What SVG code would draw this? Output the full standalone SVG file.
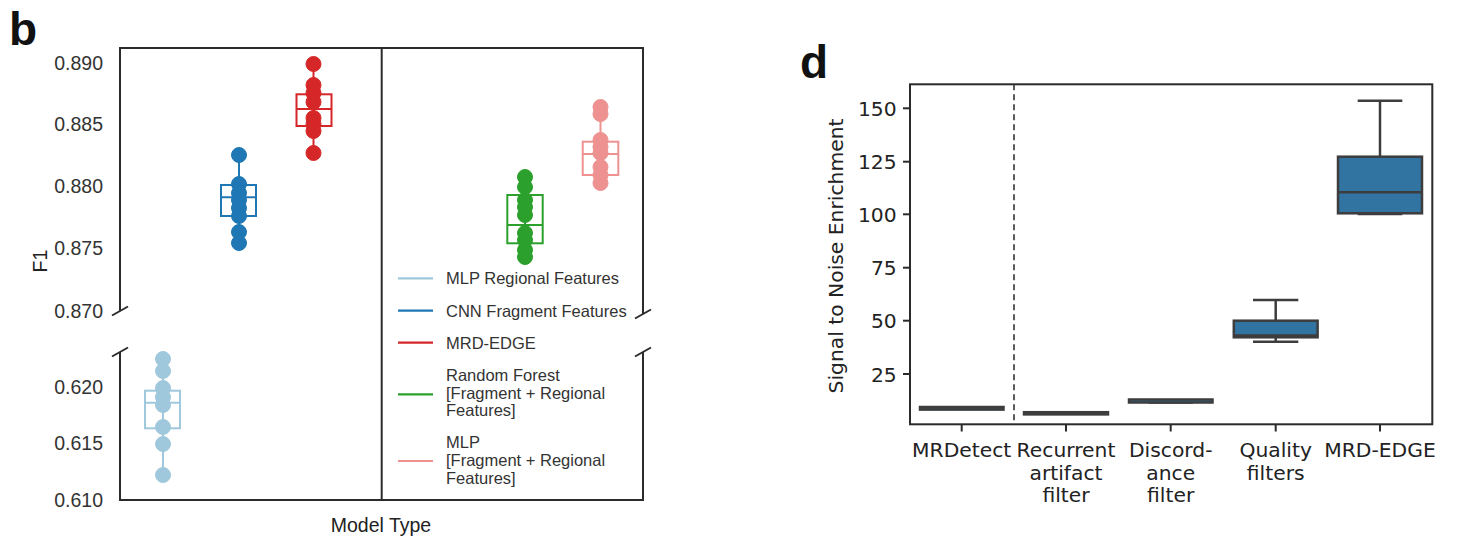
<svg xmlns="http://www.w3.org/2000/svg" width="1462" height="554" viewBox="0 0 1462 554">
<style>
.ax{stroke:#2b2b2b;stroke-width:2;fill:none}
.tl{font-family:"Liberation Sans",Arial,sans-serif;font-size:19.5px;fill:#333;text-anchor:end}
.lab{font-family:"Liberation Sans",Arial,sans-serif;font-size:19.5px;fill:#222;text-anchor:middle}
.lg{font-family:"Liberation Sans",Arial,sans-serif;font-size:16.5px;fill:#333}
.panel{font-family:"Liberation Sans",Arial,sans-serif;font-size:46px;font-weight:bold;fill:#111}
.dv{font-family:"DejaVu Sans",sans-serif;font-size:20.3px;fill:#222}
.dvr{text-anchor:end}
.dvm{text-anchor:middle}
.box2{fill:#3274a1;stroke:#3d3d3d;stroke-width:2.5}
.wh{stroke:#3d3d3d;stroke-width:2.5;fill:none}
.tk{stroke:#2b2b2b;stroke-width:2}
.bx{fill:none;stroke-width:2}
.lb{stroke:#a0c8dc;fill:#a0c8dc}
.bl{stroke:#1f77b4;fill:#1f77b4}
.rd{stroke:#d62728;fill:#d62728}
.gr{stroke:#2ca02c;fill:#2ca02c}
.pk{stroke:#ee9191;fill:#ee9191}
.hl{stroke-width:2.2}
</style>
<rect x="0" y="0" width="1462" height="554" fill="#ffffff"/>

<!-- Panel b -->
<g id="panel-b">
  <text class="panel" x="9" y="45">b</text>
  <g id="b-axes">
    <path class="ax" d="M120,311 V48 H643 V314"/>
    <path class="ax" d="M120,352 V500 H643 V352"/>
    <line class="ax" x1="381.7" y1="48" x2="381.7" y2="500"/>
    <line class="ax" x1="112" y1="315.5" x2="128" y2="306.5"/>
    <line class="ax" x1="112" y1="356.5" x2="128" y2="347.5"/>
    <line class="ax" x1="635" y1="318.5" x2="651" y2="309.5"/>
    <line class="ax" x1="635" y1="356.5" x2="651" y2="347.5"/>
  </g>
  <g id="b-yticks">
    <text class="tl" x="103" y="70">0.890</text>
    <text class="tl" x="103" y="131">0.885</text>
    <text class="tl" x="103" y="193">0.880</text>
    <text class="tl" x="103" y="255">0.875</text>
    <text class="tl" x="103" y="318">0.870</text>
    <text class="tl" x="103" y="394">0.620</text>
    <text class="tl" x="103" y="450">0.615</text>
    <text class="tl" x="103" y="507">0.610</text>
  </g>
  <text class="lab" transform="translate(47,261) rotate(-90)">F1</text>
  <text class="lab" x="381" y="531.5">Model Type</text>

  <g id="mlp-regional" class="lb">
    <line x1="163" y1="359" x2="163" y2="475" stroke-width="2"/>
    <rect class="bx" x="145" y="390.7" width="35" height="37.6"/>
    <line x1="145" y1="402.7" x2="180" y2="402.7" stroke-width="2"/>
    <circle cx="163" cy="359" r="7.5"/><circle cx="163" cy="371" r="7.5"/>
    <circle cx="163" cy="388" r="7.5"/><circle cx="163" cy="397" r="7.5"/>
    <circle cx="163" cy="405" r="7.5"/><circle cx="163" cy="427" r="7.5"/>
    <circle cx="163" cy="444" r="7.5"/><circle cx="163" cy="475" r="7.5"/>
  </g>
  <g id="cnn-fragment" class="bl">
    <line x1="239" y1="155" x2="239" y2="243" stroke-width="2"/>
    <rect class="bx" x="221" y="185" width="35" height="31"/>
    <line x1="221" y1="197.3" x2="256" y2="197.3" stroke-width="2"/>
    <circle cx="239" cy="155" r="7.5"/><circle cx="239" cy="184" r="7.5"/>
    <circle cx="239" cy="193" r="7.5"/><circle cx="239" cy="200" r="7.5"/>
    <circle cx="239" cy="208" r="7.5"/><circle cx="239" cy="216" r="7.5"/>
    <circle cx="239" cy="232" r="7.5"/><circle cx="239" cy="243" r="7.5"/>
  </g>
  <g id="mrd-edge-b" class="rd">
    <line x1="313.5" y1="64" x2="313.5" y2="153" stroke-width="2"/>
    <rect class="bx" x="296.5" y="94.3" width="35" height="31.7"/>
    <line x1="296.5" y1="109" x2="331.5" y2="109" stroke-width="2"/>
    <circle cx="313.5" cy="64" r="7.5"/><circle cx="313.5" cy="85" r="7.5"/>
    <circle cx="313.5" cy="93" r="7.5"/><circle cx="313.5" cy="102" r="7.5"/>
    <circle cx="313.5" cy="118" r="7.5"/><circle cx="313.5" cy="124" r="7.5"/>
    <circle cx="313.5" cy="131" r="7.5"/><circle cx="313.5" cy="153" r="7.5"/>
  </g>
  <g id="random-forest" class="gr">
    <line x1="525" y1="177" x2="525" y2="257" stroke-width="2"/>
    <rect class="bx" x="507.3" y="195" width="35.4" height="48.3"/>
    <line x1="507.3" y1="225" x2="542.7" y2="225" stroke-width="2"/>
    <circle cx="525" cy="177" r="7.5"/><circle cx="525" cy="187" r="7.5"/>
    <circle cx="525" cy="200" r="7.5"/><circle cx="525" cy="207" r="7.5"/>
    <circle cx="525" cy="215" r="7.5"/><circle cx="525" cy="233" r="7.5"/>
    <circle cx="525" cy="240" r="7.5"/><circle cx="525" cy="250" r="7.5"/>
    <circle cx="525" cy="257" r="7.5"/>
  </g>
  <g id="mlp-combined" class="pk">
    <line x1="600.5" y1="107" x2="600.5" y2="183" stroke-width="2"/>
    <rect class="bx" x="582.7" y="141.7" width="35.6" height="33.3"/>
    <line x1="582.7" y1="154" x2="618.3" y2="154" stroke-width="2"/>
    <circle cx="600.5" cy="107" r="7.5"/><circle cx="600.5" cy="114" r="7.5"/>
    <circle cx="600.5" cy="140" r="7.5"/><circle cx="600.5" cy="147" r="7.5"/>
    <circle cx="600.5" cy="153" r="7.5"/><circle cx="600.5" cy="167" r="7.5"/>
    <circle cx="600.5" cy="175" r="7.5"/><circle cx="600.5" cy="183" r="7.5"/>
  </g>

  <g id="legend">
    <line class="lb hl" x1="398" y1="278.3" x2="433" y2="278.3"/>
    <text class="lg" x="446" y="284">MLP Regional Features</text>
    <line class="bl hl" x1="398" y1="310.7" x2="433" y2="310.7"/>
    <text class="lg" x="446" y="316.5">CNN Fragment Features</text>
    <line class="rd hl" x1="398" y1="342.7" x2="433" y2="342.7"/>
    <text class="lg" x="446" y="348.5">MRD-EDGE</text>
    <line class="gr hl" x1="398" y1="394.3" x2="433" y2="394.3"/>
    <text class="lg" x="446" y="381">Random Forest</text>
    <text class="lg" x="446" y="398.6">[Fragment + Regional</text>
    <text class="lg" x="446" y="416">Features]</text>
    <line class="pk hl" x1="398" y1="461" x2="433" y2="461"/>
    <text class="lg" x="446" y="447.6">MLP</text>
    <text class="lg" x="446" y="466">[Fragment + Regional</text>
    <text class="lg" x="446" y="484">Features]</text>
  </g>
</g>

<!-- Panel d -->
<g id="panel-d">
  <text class="panel" x="800" y="78">d</text>
  <g id="d-axes">
    <rect class="ax" x="910" y="84.3" width="522.3" height="340"/>
    <line x1="1014" y1="84.3" x2="1014" y2="424.3" stroke="#333" stroke-width="1.6" stroke-dasharray="6,4"/>
    <line class="tk" x1="903" y1="108.3" x2="910" y2="108.3"/>
    <line class="tk" x1="903" y1="161.7" x2="910" y2="161.7"/>
    <line class="tk" x1="903" y1="214.3" x2="910" y2="214.3"/>
    <line class="tk" x1="903" y1="267.7" x2="910" y2="267.7"/>
    <line class="tk" x1="903" y1="320.7" x2="910" y2="320.7"/>
    <line class="tk" x1="903" y1="374" x2="910" y2="374"/>
    <line class="tk" x1="961.7" y1="424.3" x2="961.7" y2="431.5"/>
    <line class="tk" x1="1066" y1="424.3" x2="1066" y2="431.5"/>
    <line class="tk" x1="1170.7" y1="424.3" x2="1170.7" y2="431.5"/>
    <line class="tk" x1="1275.7" y1="424.3" x2="1275.7" y2="431.5"/>
    <line class="tk" x1="1380" y1="424.3" x2="1380" y2="431.5"/>
  </g>
  <g id="d-yticks" class="dv dvr">
    <text x="896.7" y="116">150</text>
    <text x="896.7" y="169.2">125</text>
    <text x="896.7" y="221.8">100</text>
    <text x="896.7" y="275.2">75</text>
    <text x="896.7" y="328.2">50</text>
    <text x="896.7" y="381.5">25</text>
  </g>
  <text class="dv dvm" transform="translate(843,256) rotate(-90)">Signal to Noise Enrichment</text>
  <g id="d-xticks" class="dv dvm">
    <text x="961.7" y="456.5">MRDetect</text>
    <text x="1066" y="456.5">Recurrent</text>
    <text x="1066" y="480">artifact</text>
    <text x="1066" y="502">filter</text>
    <text x="1170.7" y="456.5">Discord-</text>
    <text x="1170.7" y="480">ance</text>
    <text x="1170.7" y="502">filter</text>
    <text x="1275.7" y="456.5">Quality</text>
    <text x="1275.7" y="480">filters</text>
    <text x="1380" y="456.5">MRD-EDGE</text>
  </g>
  <g id="box-mrdetect">
    <line class="wh" x1="941" y1="408.3" x2="982" y2="408.3"/>
    <rect class="box2" x="920" y="407" width="83.5" height="2.6"/>
  </g>
  <g id="box-recurrent">
    <line class="wh" x1="1045" y1="413.3" x2="1087" y2="413.3"/>
    <rect class="box2" x="1024" y="412.2" width="84" height="2.2"/>
  </g>
  <g id="box-discordance">
    <line class="wh" x1="1148.5" y1="401" x2="1193" y2="401"/>
    <line class="wh" x1="1148.5" y1="402.5" x2="1193" y2="402.5"/>
    <rect class="box2" x="1129" y="399.5" width="83.5" height="3"/>
  </g>
  <g id="box-quality">
    <line class="wh" x1="1275.7" y1="300" x2="1275.7" y2="320.7"/>
    <line class="wh" x1="1253" y1="300" x2="1298.3" y2="300"/>
    <line class="wh" x1="1275.7" y1="337.3" x2="1275.7" y2="341.7"/>
    <line class="wh" x1="1253" y1="341.7" x2="1298.3" y2="341.7"/>
    <rect class="box2" x="1233.8" y="320.7" width="83.8" height="16.6"/>
    <line class="wh" x1="1233.8" y1="335.5" x2="1317.6" y2="335.5"/>
  </g>
  <g id="box-mrd-edge">
    <line class="wh" x1="1380" y1="100.7" x2="1380" y2="156.7"/>
    <line class="wh" x1="1357.7" y1="100.7" x2="1402.3" y2="100.7"/>
    <line class="wh" x1="1357.7" y1="214" x2="1402.3" y2="214"/>
    <rect class="box2" x="1338" y="156.7" width="84" height="56.6"/>
    <line class="wh" x1="1338" y1="192.3" x2="1422" y2="192.3"/>
  </g>
</g>
</svg>
